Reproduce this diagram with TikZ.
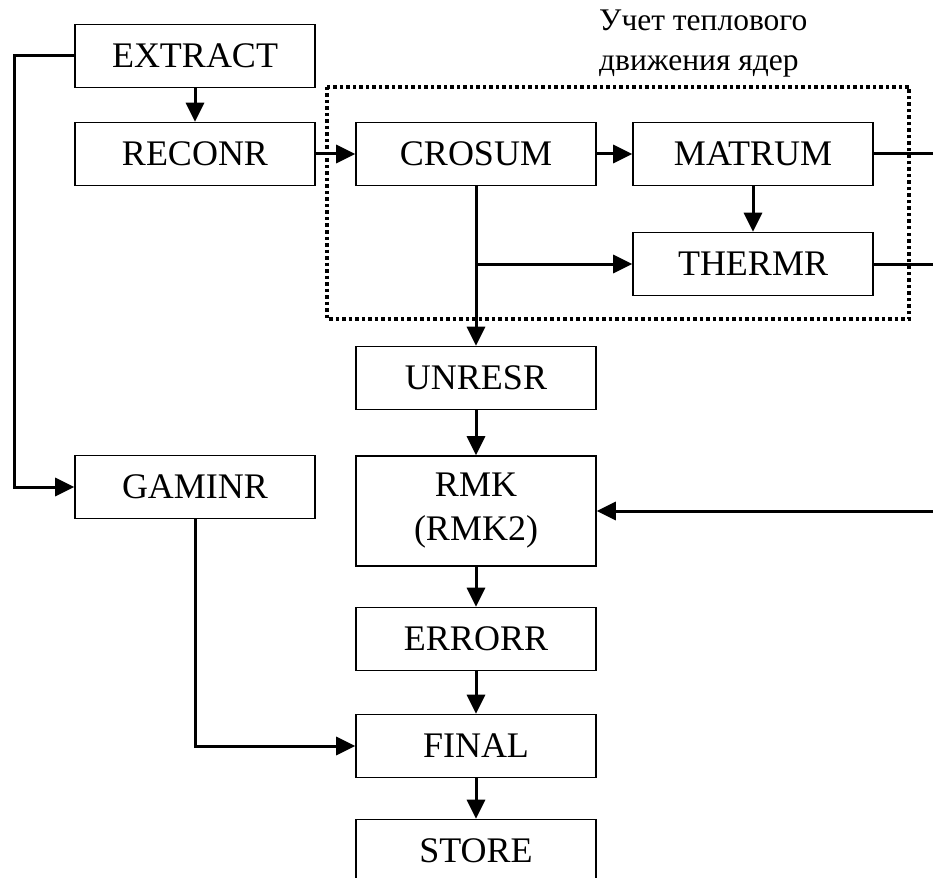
\documentclass[tikz,border=0pt]{standalone}
\usepackage{fontspec}
\setmainfont{Liberation Serif}
\usetikzlibrary{arrows.meta,positioning,calc}
\tikzset{
  blk/.style={draw,line width=1.6pt,minimum width=240pt,minimum height=63pt,
    inner sep=0pt,font=\fontsize{36}{44}\selectfont},
  flow/.style={line width=3pt,-{Triangle[length=19pt,width=18pt]}},
  wire/.style={line width=3pt},
}
\begin{document}
\begin{tikzpicture}[x=1pt,y=1pt,node distance=98pt]
  \useasboundingbox (0,0) rectangle (933,-877);
  \node[blk] (EXT) at (195,-56) {EXTRACT};
  \node[blk] (REC) [below of=EXT] {RECONR};
  \node[blk] (CRO) [right of=REC,node distance=281pt] {CROSUM};
  \node[blk] (MAT) [right of=CRO,node distance=277pt] {MATRUM};
  \node[blk] (THE) [below of=MAT,node distance=110pt] {THERMR};
  \node[blk] (UNR) [below of=CRO,node distance=224pt] {UNRESR};
  \node[blk,minimum height=110pt,align=center] (RMK) [below of=UNR,node distance=133pt] {RMK\\(RMK2)};
  \node[blk] (GAM) at (195,-487) {GAMINR};
  \node[blk] (ERR) [below of=RMK,node distance=128pt] {ERRORR};
  \node[blk] (FIN) [below of=ERR,node distance=107pt] {FINAL};
  \node[blk] (STO) [below of=FIN,node distance=105pt] {STORE};
  % thermal motion block
  \draw[line width=3.5pt,dash pattern=on 3.5pt off 3pt] (327,-87) rectangle (909,-319);
  \node[anchor=north west,align=left,inner sep=0pt,font=\fontsize{31.5}{40}\selectfont]
     (lbl) at (599,-10) {Учет теплового\\движения ядер};
  \coordinate (edge) at (933,0);
  \coordinate (lft) at (14,-56);
  \draw[flow] (EXT) -- (REC);
  \draw[flow] (REC) -- (CRO);
  \draw[flow] (CRO) -- (MAT);
  \draw[flow] (MAT) -- (THE);
  \draw[flow] (CRO) -- (UNR);
  \draw[flow] (CRO.south |- THE.west) -- (THE.west);
  \draw[wire] (MAT.east) -- (MAT.east -| edge);
  \draw[wire] (THE.east) -- (THE.east -| edge);
  \draw[flow] (RMK.east -| edge) -- (RMK.east);
  \draw[flow] (UNR) -- (RMK);
  \draw[flow] (RMK) -- (ERR);
  \draw[flow] (ERR) -- (FIN);
  \draw[flow] (FIN) -- (STO);
  \draw[flow] (EXT.west) -- (lft) |- (GAM.west);
  \draw[flow] (GAM.south) |- (FIN.west);
\end{tikzpicture}
\end{document}
